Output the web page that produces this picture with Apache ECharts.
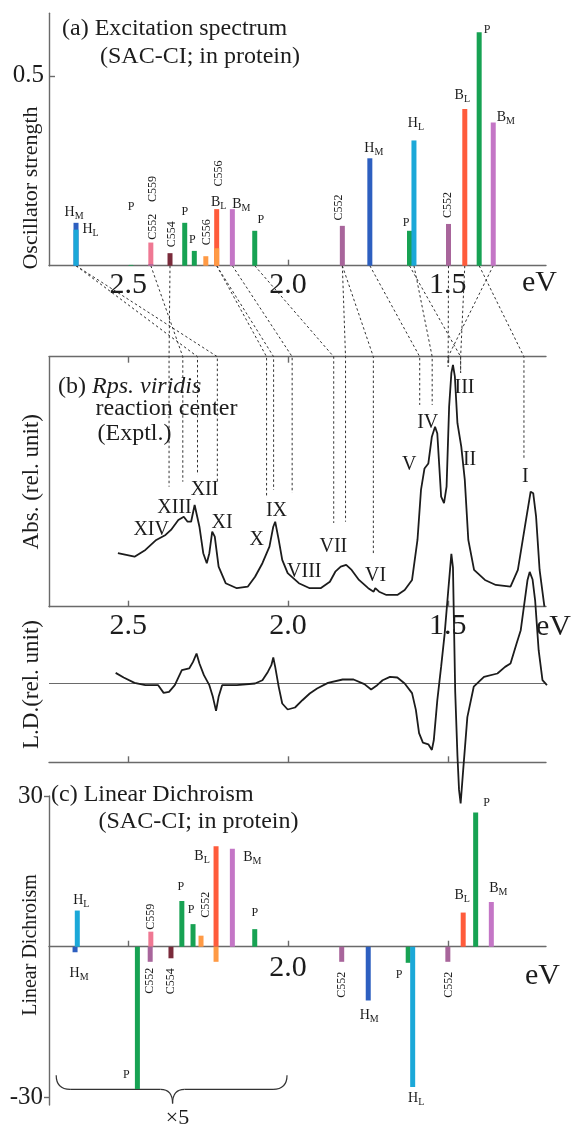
<!DOCTYPE html>
<html lang="en">
<head>
<meta charset="UTF-8">
<title>SAC-CI excitation spectrum / Rps. viridis RC</title>
<script src="https://cdn.jsdelivr.net/npm/echarts@6/dist/echarts.min.js"></script>
<style>
  html, body { margin: 0; padding: 0; background: #fff; }
  #chart { width: 572px; height: 1128px; }
</style>
</head>
<body>
<div id="chart"></div>
<script>
// ---------- data ----------
// (a) SAC-CI excitation energies (eV) and oscillator strengths
var excState    = ['HM','HL','P','C559','C552','C554','P','P','C556','BL','C556','BM','P','C552','HM','P','HL','C552','BL','P','BM'];
var excEnergy   = [2.663,2.663,2.491,2.429,2.429,2.369,2.323,2.293,2.257,2.223,2.223,2.174,2.104,1.830,1.744,1.620,1.606,1.498,1.447,1.402,1.358];
var excStrength = [0.113,0.095,0.002,0.061,0.004,0.033,0.113,0.039,0.025,0.149,0.046,0.149,0.092,0.105,0.283,0.092,0.330,0.110,0.413,0.615,0.377];
var excLabel    = ['HM','HL','P','C559','C552','C554','P','P','C556','BL','C556','BM','P','C552','HM','P','HL','C552','BL','P','BM'];

// (b) experimental absorption spectrum (rel. unit)
var absEnergy = [2.532,2.480,2.446,2.412,2.383,2.366,2.343,2.326,2.314,2.303,2.292,2.286,2.277,2.265,2.254,2.246,2.237,2.229,2.217,2.195,2.160,2.126,2.103,2.080,2.058,2.046,2.040,2.029,2.018,2.001,1.966,1.932,1.898,1.869,1.852,1.835,1.818,1.801,1.778,1.749,1.732,1.727,1.715,1.692,1.658,1.635,1.612,1.595,1.584,1.573,1.561,1.550,1.540,1.533,1.521,1.512,1.504,1.496,1.489,1.484,1.478,1.470,1.458,1.447,1.436,1.418,1.384,1.350,1.304,1.281,1.259,1.241,1.233,1.224,1.213,1.198];
var absValue  = [0.214,0.200,0.227,0.267,0.287,0.307,0.347,0.360,0.340,0.340,0.407,0.414,0.320,0.214,0.174,0.214,0.300,0.280,0.160,0.094,0.074,0.080,0.120,0.174,0.240,0.320,0.340,0.267,0.187,0.134,0.094,0.074,0.074,0.100,0.140,0.160,0.167,0.147,0.107,0.074,0.060,0.074,0.060,0.047,0.047,0.067,0.107,0.267,0.467,0.553,0.573,0.680,0.720,0.693,0.440,0.414,0.480,0.800,0.934,0.967,0.920,0.734,0.640,0.507,0.267,0.147,0.107,0.087,0.080,0.147,0.320,0.460,0.454,0.360,0.147,0.0];

// (b) experimental linear dichroism (rel. unit)
var ldEnergy = [2.539,2.514,2.480,2.446,2.406,2.389,2.372,2.354,2.332,2.309,2.297,2.286,2.277,2.263,2.246,2.235,2.225,2.217,2.206,2.160,2.103,2.080,2.063,2.052,2.046,2.040,2.029,2.018,2.001,1.978,1.955,1.932,1.909,1.875,1.829,1.795,1.761,1.740,1.721,1.704,1.681,1.658,1.635,1.612,1.600,1.590,1.578,1.561,1.550,1.544,1.533,1.521,1.510,1.499,1.489,1.484,1.477,1.470,1.465,1.460,1.452,1.439,1.419,1.387,1.345,1.321,1.304,1.285,1.272,1.251,1.244,1.235,1.227,1.216,1.204,1.190];
var ldValue  = [0.133,0.075,0.008,-0.021,-0.021,-0.117,-0.104,-0.021,0.166,0.188,0.270,0.375,0.250,0.104,-0.021,-0.167,-0.342,-0.167,-0.021,-0.021,0,0.041,0.145,0.229,0.325,0.208,-0.042,-0.250,-0.325,-0.300,-0.209,-0.125,-0.063,0.008,0.050,0.050,-0.008,-0.075,-0.021,0.041,0.083,0.075,0,-0.12,-0.33,-0.62,-0.74,-0.76,-0.83,-0.71,-0.21,0.21,0.62,1.15,1.62,1.45,-0.1,-0.9,-1.33,-1.5,-1.08,-0.42,-0.04,0.083,0.125,0.208,0.25,0.5,0.666,1.29,1.395,1.3,1.04,0.416,0.041,-0.02];

// (c) SAC-CI linear dichroism (left part x5)
var ldcState  = ['HM','HL','P','C559','C552','C554','P','P','C556','BL','C556','BM','P','C552','HM','P','HL','C552','BL','P','BM'];
var ldcEnergy = [2.666,2.659,2.471,2.429,2.431,2.366,2.332,2.297,2.272,2.225,2.225,2.174,2.104,1.832,1.749,1.624,1.610,1.500,1.452,1.413,1.364];
var ldcValue  = [-1.1,7.2,-28.3,3.0,-3.0,-2.3,9.1,4.5,2.2,20.0,-3.0,19.5,3.5,-3.0,-10.7,-3.2,-27.9,-3.0,6.8,26.7,8.9];
var ldcLabel  = ['HM','HL','P','C559','C552','C554','P','P','C552','BL',null,'BM','P','C552','HM','P','HL','C552','BL','P','BM'];

// assignment lines: calculated energy -> experimental band, band height
var connFrom = [2.663,2.663,2.429,2.369,2.223,2.223,2.174,2.104,1.830,1.830,1.744,1.606,1.620,1.498,1.447,1.358,1.402];
var connTo   = [2.283,2.221,2.329,2.372,2.067,2.045,1.987,1.857,1.820,1.733,1.588,1.549,1.460,1.499,1.460,1.499,1.262];
var connEnd  = [0.527,0.500,0.500,0.480,0.435,0.467,0.455,0.335,0.340,0.213,0.807,0.807,0.935,0.960,0.935,0.960,0.587];

var bandName = ['XIV','XIII','XII','XI','X','IX','VIII','VII','VI','V','IV','III','II','I'];

// ---------- layout / style ----------
var SERIF = "'Liberation Serif', 'DejaVu Serif', serif";
var INK = '#1c1c1c', AXIS = '#6a6a6a';
var E_LEFT = 2.7475, E_RIGHT = 1.193;
var colors = {HM:'#2d5fc0', HL:'#1ba8d8', P:'#17a253', C552:'#a8659b', C559:'#ef7893',
              C554:'#7a2b3b', C556:'#ff9a45', BL:'#ff5b3b', BM:'#c476c6'};
// label offsets (px) from bar end
var excLabelOff = [[-2,-10],[14.5,0],[0,-58],[2,-53.6],[2,-37.5],[2,-19],[0,-11],[-2,-11],[1,-24],[2,-7],[2,-74.7],
                   [9,-5],[6,-11],[-3,-18.4],[4,-10],[-3.3,-8],[2,-17.5],[-1,-19],[-2.5,-14],[8,-2],[12.5,-5]];
var ldcLabelOff = [[4,21],[4,-10.5],[-11,-14],[0,-15],[0,19],[0,23],[-1,-14],[-2,-14],[4.5,-31],[-14,10],[0,0],
                   [20,9],[0,-16],[0,23],[1,15],[-9,12],[3.5,11],[1,23],[-1,-17],[11,-10],[7,-14]];
// band label anchors [eV, abs]
var bandAt = [[2.428,0.309],[2.355,0.397],[2.261,0.469],[2.206,0.337],[2.098,0.267],[2.036,0.385],[1.949,0.141],
              [1.858,0.24],[1.726,0.125],[1.621,0.569],[1.563,0.737],[1.448,0.877],[1.432,0.589],[1.258,0.521]];

var labRich = {
  m: {fontFamily: SERIF, fontSize: 14, color: INK, lineHeight: 18, verticalAlign: 'middle'},
  s: {fontFamily: SERIF, fontSize: 10, color: INK, lineHeight: 18, verticalAlign: 'bottom'},
  p: {fontFamily: SERIF, fontSize: 12, color: INK, lineHeight: 18, verticalAlign: 'middle'}
};
function fmtLabel(s) {
  if (s === 'P') return '{p|P}';
  return '{m|' + s.charAt(0) + '}{s|' + s.charAt(1) + '}';
}

function barRenderer(states, labels, offsets) {
  return function (params, api) {
    var i = params.dataIndex;
    var base = api.coord([api.value(0), 0]);
    var end = api.coord([api.value(0), api.value(1)]);
    var children = [{
      type: 'rect',
      shape: {x: base[0] - 2.5, y: Math.min(base[1], end[1]), width: 5, height: Math.abs(end[1] - base[1])},
      style: {fill: colors[states[i]]}
    }];
    var lab = labels[i];
    if (lab) {
      var rot = lab.charAt(0) === 'C';
      children.push({
        type: 'text',
        x: end[0] + offsets[i][0],
        y: end[1] + offsets[i][1],
        rotation: rot ? Math.PI / 2 : 0,
        style: rot
          ? {text: lab, fontFamily: SERIF, fontSize: 12, fill: INK, align: 'center', verticalAlign: 'middle'}
          : {text: fmtLabel(lab), rich: labRich, fill: INK, align: 'center', verticalAlign: 'middle'}
      });
    }
    return {type: 'group', children: children};
  };
}

function eAxis(grid, pos, ticks, labels) {
  return {
    type: 'value', gridIndex: grid, position: pos, inverse: true,
    min: E_RIGHT, max: E_LEFT,
    splitLine: {show: false},
    axisLine: {show: true, onZero: false, lineStyle: {color: AXIS, width: 1.4}},
    axisTick: {show: ticks.length > 0, inside: true, length: 6, customValues: ticks,
               lineStyle: {color: AXIS, width: 1.4}},
    axisLabel: {show: labels.length > 0, customValues: labels, margin: 4,
                fontFamily: SERIF, fontSize: 30, color: INK,
                formatter: function (v) { return v.toFixed(1); }}
  };
}

var nameStyle = function (size) {
  return {fontFamily: SERIF, fontSize: size, color: INK};
};

function gridAt(top, height) {
  return {left: 49, right: 26, top: top, height: height, containLabel: false, outerBoundsMode: 'none'};
}

var chart = echarts.init(document.getElementById('chart'));

var cAxis = eAxis(3, 'bottom', [2.5, 2.0, 1.5], []);
cAxis.axisLine.onZero = true;

var option = {
  animation: false,
  backgroundColor: '#fff',
  grid: [gridAt(13.3, 252.4), gridAt(356.7, 250), gridAt(606.7, 155.6), gridAt(796, 309)],
  xAxis: [
    eAxis(0, 'bottom', [2.0], [2.5, 2.0, 1.5]),
    eAxis(1, 'top', [2.5, 2.0, 1.5], []),
    eAxis(1, 'bottom', [2.5, 2.0, 1.5], [2.5, 2.0, 1.5]),
    eAxis(2, 'bottom', [2.5, 2.0, 1.5], []),
    cAxis
  ],
  yAxis: [
    {
      type: 'value', gridIndex: 0, min: 0, max: 0.665, splitLine: {show: false},
      axisLine: {show: true, onZero: false, lineStyle: {color: AXIS, width: 1.4}},
      axisTick: {show: true, inside: true, length: 6, customValues: [0.5], lineStyle: {color: AXIS, width: 1.4}},
      axisLabel: {customValues: [0.5], margin: 5, fontFamily: SERIF, fontSize: 25, color: INK,
                  formatter: function (v) { return v.toFixed(1); }}
    },
    {
      type: 'value', gridIndex: 1, min: 0, max: 1, splitLine: {show: false},
      axisLine: {show: true, onZero: false, lineStyle: {color: AXIS, width: 1.4}},
      axisTick: {show: false}, axisLabel: {show: false},
      name: 'Abs. (rel. unit)', nameLocation: 'middle', nameGap: 6, nameTextStyle: nameStyle(23)
    },
    {
      type: 'value', gridIndex: 2, min: -0.985, max: 0.96, splitLine: {show: false},
      axisLine: {show: false, onZero: false}, axisTick: {show: false}, axisLabel: {show: false},
      name: 'L.D.(rel. unit)', nameLocation: 'middle', nameGap: 6, nameTextStyle: nameStyle(23)
    },
    {
      type: 'value', gridIndex: 3, min: -31.5, max: 30, splitLine: {show: false},
      axisLine: {show: true, onZero: false, lineStyle: {color: AXIS, width: 1.4}},
      axisTick: {show: true, length: 5, customValues: [-30, 30], lineStyle: {color: AXIS, width: 1.4}},
      axisLabel: {customValues: [-30, 30], margin: 6, fontFamily: SERIF, fontSize: 25, color: INK}
    }
  ],
  series: [
    {
      type: 'custom', xAxisIndex: 0, yAxisIndex: 0, clip: false,
      renderItem: barRenderer(excState, excLabel, excLabelOff),
      data: excEnergy.map(function (e, i) { return [e, excStrength[i]]; })
    },
    {
      type: 'line', xAxisIndex: 1, yAxisIndex: 1, showSymbol: false, clip: false, z: 5,
      lineStyle: {color: INK, width: 1.8},
      data: absEnergy.map(function (e, i) { return [e, absValue[i]]; })
    },
    {
      type: 'line', xAxisIndex: 3, yAxisIndex: 2, showSymbol: false, clip: false, z: 5,
      lineStyle: {color: INK, width: 1.8},
      data: ldEnergy.map(function (e, i) { return [e, ldValue[i]]; }),
      markLine: {
        silent: true, symbol: ['none', 'none'], label: {show: false},
        lineStyle: {color: AXIS, width: 1.2, type: 'solid'},
        data: [{yAxis: 0}]
      }
    },
    {
      type: 'custom', xAxisIndex: 4, yAxisIndex: 3, clip: false,
      renderItem: barRenderer(ldcState, ldcLabel, ldcLabelOff),
      data: ldcEnergy.map(function (e, i) { return [e, ldcValue[i]]; })
    }
  ]
};

chart.setOption(option);

// ---------- annotations (after layout so the axes can be used) ----------
function txt(x, y, text, size, extra) {
  var st = {text: text, fontFamily: SERIF, fontSize: size, fill: INK, align: 'left', verticalAlign: 'middle'};
  for (var k in extra) st[k] = extra[k];
  return {type: 'text', x: x, y: y, silent: true, style: st};
}
function vtxt(x, y, text, size) {
  var t = txt(x, y, text, size, {align: 'center'});
  t.rotation = Math.PI / 2;
  return t;
}

var g = [];
// titles
g.push(txt(62, 29, '(a) Excitation spectrum', 24));
g.push(txt(100, 56.5, '(SAC-CI; in protein)', 24));
g.push(txt(58, 386.5, '{n|(b) }{i|Rps. viridis}', 24, {
  rich: {n: {fontFamily: SERIF, fontSize: 24, color: INK},
         i: {fontFamily: SERIF, fontSize: 24, color: INK, fontStyle: 'italic'}}
}));
g.push(txt(95.5, 408.5, 'reaction center', 24));
g.push(txt(97.5, 434, '(Exptl.)', 24));
g.push(txt(51, 795, '(c) Linear Dichroism', 24));
g.push(txt(98.5, 821.5, '(SAC-CI; in protein)', 24));
// y axis names that sit beside tick labels
g.push(vtxt(31, 188, 'Oscillator strength', 22));
g.push(vtxt(31, 945, 'Linear Dichroism', 20));
// eV units
g.push(txt(522, 283, 'eV', 30));
g.push(txt(536, 627, 'eV', 30));
g.push(txt(525, 976, 'eV', 30));
// 2.0 tick label on the zero line of (c)
var c20 = chart.convertToPixel({seriesIndex: 3}, [2.0, 0]);
g.push(txt(c20[0], c20[1] + 21, '2.0', 30, {align: 'center'}));

// assignment dashed lines
for (var i = 0; i < connFrom.length; i++) {
  var p0 = chart.convertToPixel({seriesIndex: 0}, [connFrom[i], 0]);
  var p1 = chart.convertToPixel({seriesIndex: 1}, [connTo[i], 1]);
  var p2 = chart.convertToPixel({seriesIndex: 1}, [connTo[i], connEnd[i]]);
  g.push({
    type: 'polyline', silent: true, z: 1,
    shape: {points: [p0, p1, p2]},
    style: {stroke: '#333', lineWidth: 1, lineDash: [2.5, 2.5], fill: null}
  });
}

// band names
for (var j = 0; j < bandName.length; j++) {
  var pb = chart.convertToPixel({seriesIndex: 1}, bandAt[j]);
  g.push(txt(pb[0], pb[1], bandName[j], 20, {align: 'center'}));
}

// brace under the x5 region of (c)
var bl = chart.convertToPixel({seriesIndex: 3}, [2.725, -25.6]);
var br = chart.convertToPixel({seriesIndex: 3}, [2.003, -25.6]);
var bc = chart.convertToPixel({seriesIndex: 3}, [2.361, -31.2]);
var ym = (bl[1] + bc[1]) / 2;
var braceStyle = {stroke: '#333', lineWidth: 1.2, fill: null};
g.push({type: 'bezierCurve', silent: true, shape: {x1: bl[0], y1: bl[1], cpx1: bl[0], cpy1: ym, x2: bl[0] + 14, y2: ym}, style: braceStyle});
g.push({type: 'line', silent: true, shape: {x1: bl[0] + 14, y1: ym, x2: bc[0] - 12, y2: ym}, style: braceStyle});
g.push({type: 'bezierCurve', silent: true, shape: {x1: bc[0] - 12, y1: ym, cpx1: bc[0], cpy1: ym, x2: bc[0], y2: bc[1]}, style: braceStyle});
g.push({type: 'bezierCurve', silent: true, shape: {x1: bc[0], y1: bc[1], cpx1: bc[0], cpy1: ym, x2: bc[0] + 12, y2: ym}, style: braceStyle});
g.push({type: 'line', silent: true, shape: {x1: bc[0] + 12, y1: ym, x2: br[0] - 14, y2: ym}, style: braceStyle});
g.push({type: 'bezierCurve', silent: true, shape: {x1: br[0] - 14, y1: ym, cpx1: br[0], cpy1: ym, x2: br[0], y2: br[1]}, style: braceStyle});
g.push(txt(bc[0] + 5, 1118, '\u00d75', 22, {align: 'center'}));

chart.setOption({graphic: g});
</script>
</body>
</html>
